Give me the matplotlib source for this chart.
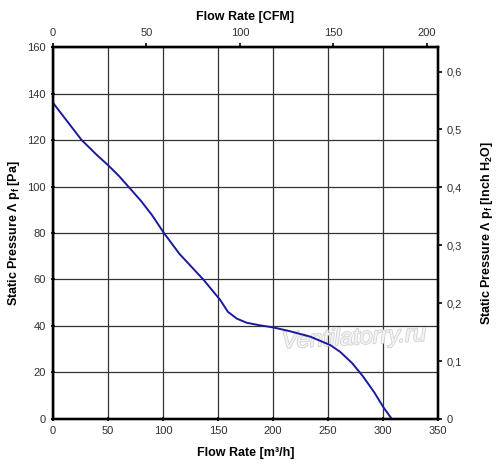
import numpy as np
import matplotlib
matplotlib.use('Agg')
import matplotlib.pyplot as plt
import matplotlib.patheffects as pe

plt.rcParams['font.family'] = ['Liberation Sans', 'DejaVu Sans']
plt.rcParams['mathtext.fontset'] = 'custom'
plt.rcParams['mathtext.rm'] = 'Liberation Sans'
plt.rcParams['mathtext.it'] = 'Liberation Sans:italic'
plt.rcParams['mathtext.bf'] = 'Liberation Sans:bold'

# fan curve
flow_m3h = [0, 13, 26, 40, 50, 60, 69, 80, 90, 101, 115, 137, 152, 159, 167, 176, 188, 200, 215, 234, 252, 261, 272, 282, 292, 300, 308]
pressure_pa = [136, 128, 120, 113.5, 109.2, 104.5, 99.7, 93.8, 87.7, 79.9, 71, 59.8, 51.2, 46.1, 43.2, 41.4, 40.3, 39.4, 37.8, 35.4, 31.8, 28.9, 24, 18.2, 11.5, 5.3, 0]

x_ticks = [0, 50, 100, 150, 200, 250, 300, 350]
y_ticks = [0, 20, 40, 60, 80, 100, 120, 140, 160]
cfm_ticks = [0, 50, 100, 150, 200]
inh2o_ticks = [0, 0.1, 0.2, 0.3, 0.4, 0.5, 0.6]

M3H_PER_CFM = 1.699
PA_PER_INH2O = 249.09

fig = plt.figure(figsize=(5, 4.73), dpi=100)
ax = fig.add_axes([0.106, 0.1142, 0.77, 0.7864])

ax.plot(flow_m3h, pressure_pa, color='#1a1a9c', lw=1.4, zorder=3)
ax.set_xlim(0, 350)
ax.set_ylim(0, 160)
ax.set_xticks(x_ticks)
ax.set_yticks(y_ticks)
ax.grid(True, color='#333333', lw=0.9)
ax.tick_params(labelsize=8, length=3, width=1.2, direction='inout', colors='black', labelcolor='#303030')
for s in ax.spines.values():
    s.set_linewidth(1.6)
ax.set_xlabel('Flow Rate [m³/h]', fontsize=9, fontweight='bold', labelpad=8)
ax.set_ylabel('Static Pressure Λ p$_\\mathbf{f}$ [Pa]', fontsize=9, fontweight='bold', labelpad=4)

# watermark sits under the curve
ax.text(0.782, 0.218, 'Ventilatorry.ru', transform=ax.transAxes, fontsize=17, style='italic',
        color='#f4f4f4', ha='center', va='center', rotation=3, zorder=2.5,
        path_effects=[pe.withStroke(linewidth=1.2, foreground='#d0d0d0')])

ax_top = ax.twiny()
ax_top.set_xlim(0, 350 / M3H_PER_CFM)
ax_top.set_xticks(cfm_ticks)
ax_top.tick_params(labelsize=8, length=3, width=1.2, labelcolor='#303030')
ax_top.set_xlabel('Flow Rate [CFM]', fontsize=9, fontweight='bold', labelpad=6)

ax_r = ax.twinx()
ax_r.set_ylim(0, 160 / PA_PER_INH2O)
ax_r.set_yticks(inh2o_ticks)
ax_r.set_yticklabels(['0' if v == 0 else f'{v:.1f}'.replace('.', ',') for v in inh2o_ticks])
ax_r.tick_params(labelsize=8, length=3, width=1.2, labelcolor='#303030')
ax_r.set_ylabel('Static Pressure Λ p$_\\mathbf{f}$ [Inch H$_\\mathbf{2}$O]', fontsize=9, fontweight='bold', labelpad=12)
for s in list(ax_top.spines.values()) + list(ax_r.spines.values()):
    s.set_linewidth(1.6)

fig.savefig('out.png', dpi=100, facecolor='white')
